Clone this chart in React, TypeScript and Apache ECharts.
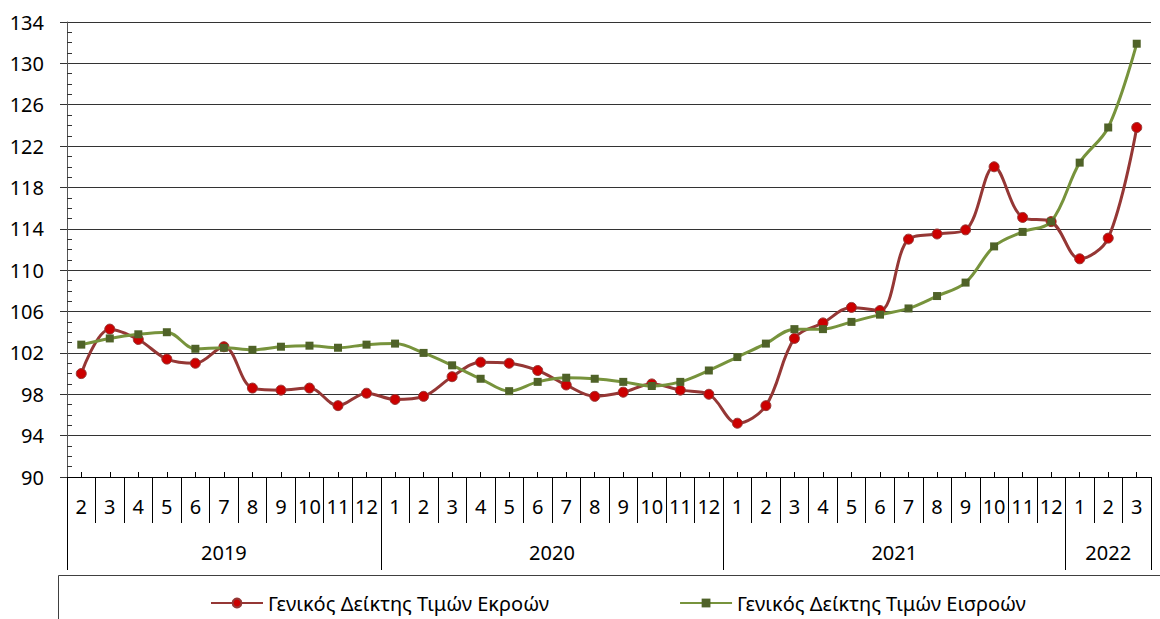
import React, { useEffect, useRef } from "react";
import * as echarts from "echarts";

const months = [
  "2", "3", "4", "5", "6", "7", "8", "9", "10", "11", "12",
  "1", "2", "3", "4", "5", "6", "7", "8", "9", "10", "11", "12",
  "1", "2", "3", "4", "5", "6", "7", "8", "9", "10", "11", "12",
  "1", "2", "3",
];
const years = ["2019", "2020", "2021", "2022"];
const yearStarts = [0, 11, 23, 35, 38];

const outputName = "Γενικός Δείκτης Τιμών Εκροών";
const inputName = "Γενικός Δείκτης Τιμών Εισροών";

const outputIndex = [
  100.0, 104.3, 103.3, 101.4, 101.0, 102.6, 98.6, 98.4, 98.6, 96.9, 98.1,
  97.5, 97.8, 99.7, 101.1, 101.0, 100.3, 98.9, 97.8, 98.2, 99.0, 98.4, 98.0,
  95.2, 96.9, 103.4, 104.9, 106.4, 106.1, 113.0, 113.5, 113.9, 120.0, 115.1, 114.7,
  111.1, 113.1, 123.8,
];
const inputIndex = [
  102.8, 103.4, 103.8, 104.0, 102.4, 102.5, 102.3, 102.6, 102.7, 102.5, 102.8,
  102.9, 102.0, 100.8, 99.5, 98.3, 99.2, 99.6, 99.5, 99.2, 98.8, 99.2, 100.3,
  101.6, 102.9, 104.3, 104.3, 105.0, 105.7, 106.3, 107.5, 108.8, 112.3, 113.7, 114.7,
  120.4, 123.8, 131.9,
];

const FONT = "Noto Sans";

export default function App() {
  const ref = useRef<HTMLDivElement>(null);
  useEffect(() => {
    if (!ref.current) return;
    const chart = echarts.init(ref.current, null, { renderer: "svg" });
    const yearLabelPos = years.map((_, i) => (yearStarts[i] + yearStarts[i + 1]) / 2);
    chart.setOption({
      animation: false,
      backgroundColor: "#ffffff",
      textStyle: { fontFamily: FONT },
      grid: { left: 67, right: 9, top: 22, bottom: 142, containLabel: false },
      xAxis: [
        {
          type: "category",
          data: months,
          position: "bottom",
          boundaryGap: true,
          axisLine: { show: true, lineStyle: { color: "#000", width: 1 } },
          axisTick: { show: true, inside: true, alignWithLabel: true, interval: 0, length: 5, lineStyle: { color: "#000" } },
          axisLabel: { interval: 0, color: "#000", fontSize: 20, fontFamily: FONT, margin: 19 },
          splitLine: { show: false },
        },
        {
          type: "category",
          data: months,
          position: "bottom",
          boundaryGap: true,
          axisLine: { show: false },
          axisTick: { show: true, interval: 0, length: 46, lineStyle: { color: "#000" } },
          axisLabel: { show: false },
          splitLine: { show: false },
        },
        {
          type: "value",
          min: 0,
          max: months.length,
          position: "bottom",
          axisLine: { show: false },
          axisTick: { show: true, customValues: yearStarts, length: 93, lineStyle: { color: "#000" } },
          axisLabel: {
            show: true,
            customValues: yearLabelPos,
            color: "#000",
            fontSize: 20,
            fontFamily: FONT,
            margin: 65,
            formatter: (v: number) => {
              const idx = yearLabelPos.findIndex((p) => Math.abs(p - v) < 0.01);
              return idx >= 0 ? years[idx] : "";
            },
          },
          splitLine: { show: false },
        },
      ],
      yAxis: [
        {
          type: "value",
          position: "left",
          min: 90,
          max: 134,
          interval: 4,
          axisLine: { show: true, lineStyle: { color: "#555", width: 1 } },
          axisTick: { show: true, inside: false, length: 7, lineStyle: { color: "#333" } },
          axisLabel: { color: "#000", fontSize: 20, fontFamily: FONT, margin: 23 },
          splitLine: { show: true, lineStyle: { color: "#333", width: 1 } },
        },
        {
          type: "value",
          position: "left",
          min: 90,
          max: 134,
          interval: 4,
          axisLine: { show: false },
          axisTick: { show: false, inside: true },
          minorTick: { show: true, splitNumber: 4, length: 5, lineStyle: { color: "#333" } },
          axisLabel: { show: false },
          splitLine: { show: false },
        },
      ],
      legend: {
        left: 205,
        top: 588,
        itemWidth: 52,
        itemHeight: 11,
        itemGap: 130,
        textStyle: { color: "#000", fontSize: 20, fontFamily: FONT },
        data: [outputName, inputName],
      },
      graphic: [
        {
          type: "rect",
          shape: { x: 58.5, y: 575.5, width: 1200, height: 100 },
          style: { fill: "none", stroke: "#404040", lineWidth: 1 },
          silent: true,
        },
      ],
      series: [
        {
          name: outputName,
          type: "line",
          data: outputIndex,
          smooth: 0.35,
          symbol: "circle",
          symbolSize: 10,
          lineStyle: { color: "#953735", width: 3 },
          itemStyle: { color: "#CC0000", borderColor: "#953735", borderWidth: 1 },
          z: 2,
        },
        {
          name: inputName,
          type: "line",
          data: inputIndex,
          smooth: 0.35,
          symbol: "rect",
          symbolSize: 8,
          lineStyle: { color: "#77933C", width: 3 },
          itemStyle: { color: "#4F6228", borderColor: "#4F6228", borderWidth: 0 },
          z: 3,
        },
      ],
    });
    return () => chart.dispose();
  }, []);
  return (
    <div
      ref={ref}
      style={{ position: "fixed", left: 0, top: 0, width: 1160, height: 619 }}
    />
  );
}
